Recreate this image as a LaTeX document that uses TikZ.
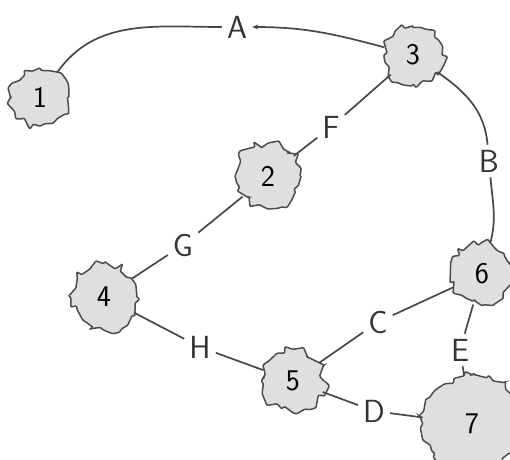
\documentclass[tikz,border=0pt]{standalone}
\usepackage{tikz}
\usetikzlibrary{positioning,decorations.pathmorphing,arrows.meta}

\tikzset{
    blob/.style={
        draw=black!70,
        line width=1.5pt,
        fill=gray!25,
        circle,
        inner sep=0pt,
        minimum size=58pt,
        rounded corners=1pt,
        decorate,
        decoration={random steps, segment length=6pt, amplitude=4.5pt},
        font=\sffamily\fontsize{30}{30}\selectfont
    },
    edgelabel/.style={
        inner sep=5pt,
        font=\sffamily\fontsize{32}{32}\selectfont,
        text=black!80
    },
    link/.style={draw=black!72, line width=1.7pt}
}

\begin{document}
\pgfmathsetseed{11}
\begin{tikzpicture}[x=1pt,y=-1pt]

    \useasboundingbox (0,0) rectangle (510,459);

    % Blobs
    \node[blob] (n1) at (40,97) {1};
    \node[blob] (n3) at (413,55) {3};
    \node[blob, minimum size=64pt] (n2) at (268,176) {2};
    \node[blob, minimum size=66pt] (n4) at (104,297) {4};
    \node[blob, minimum size=62pt] (n5) at (293,381) {5};
    \node[blob, minimum size=62pt] (n6) at (482,274) {6};
    \node[blob, minimum size=98pt] (n7) at (472,424) {7};

    % Edge labels
    \node[edgelabel] (labA) at (237,27) {A};
    \node[edgelabel] (labB) at (489,161) {B};
    \node[edgelabel] (labF) at (331,127) {F};
    \node[edgelabel] (labG) at (183,245) {G};
    \node[edgelabel] (labH) at (200,347) {H};
    \node[edgelabel] (labC) at (378,322) {C};
    \node[edgelabel] (labE) at (460,350) {E};
    \node[edgelabel] (labD) at (374,411) {D};

    % Connectors
    \draw[link] (n1) to[out=55,in=180] (labA);
    \draw[link, {Stealth[length=6pt,width=5pt]}-] (labA) to[out=0,in=165] (n3);
    \draw[link] (n3) to[out=-35,in=95] (labB);
    \draw[link] (labB) to[out=-85,in=75] (n6);
    \draw[link] (n3) -- (labF);
    \draw[link] (labF) -- (n2);
    \draw[link] (n2) -- (labG);
    \draw[link] (labG) -- (n4);
    \draw[link] (n4) -- (labH);
    \draw[link] (labH) -- (n5);
    \draw[link] (n5) -- (labC);
    \draw[link] (labC) -- (n6);
    \draw[link] (n6) -- (labE);
    \draw[link] (labE) -- (n7);
    \draw[link] (n5) -- (labD);
    \draw[link] (labD) -- (n7);

\end{tikzpicture}
\end{document}
